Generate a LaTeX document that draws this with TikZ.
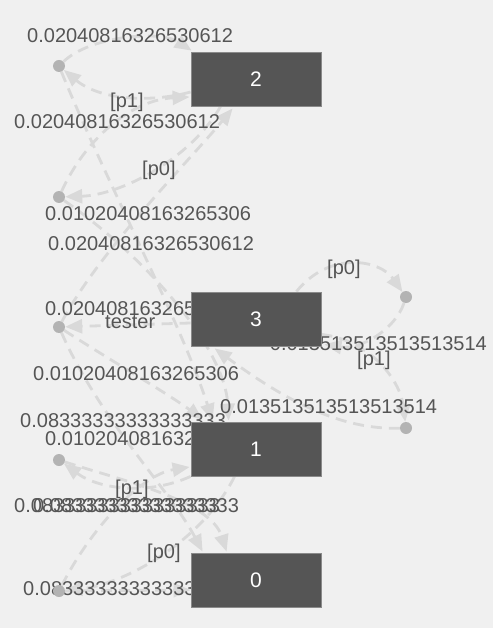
\documentclass[tikz,border=0pt]{standalone}
\usepackage{fontspec}
\setmainfont{Liberation Sans}
\usetikzlibrary{arrows.meta}
\definecolor{bgc}{HTML}{F0F0F0}
\definecolor{edgec}{HTML}{D9D9D9}
\definecolor{boxc}{HTML}{555555}
\definecolor{boxline}{HTML}{8A8A8A}
\definecolor{dotc}{HTML}{B3B3B3}
\definecolor{txtc}{HTML}{555555}
\pgfdeclarelayer{bglayer}
\pgfdeclarelayer{edgelayer}
\pgfdeclarelayer{labellayer}
\pgfsetlayers{bglayer,edgelayer,labellayer,main}
\begin{document}
\begin{tikzpicture}[x=1pt,y=-1pt,
  statebox/.style={rectangle,minimum width=130pt,minimum height=54pt,inner sep=0pt,
    fill=boxc,draw=boxline,line width=0.8pt,text=white,font=\fontsize{21}{24}\selectfont},
  actdot/.style={circle,fill=dotc,minimum size=12pt,inner sep=0pt},
  edgeline/.style={draw=edgec,line width=2.8pt,dash pattern=on 11pt off 7pt,
    -{Triangle[length=17pt,width=14pt]}},
  lbl/.style={text=txtc,font=\fontsize{20}{24}\selectfont,inner sep=0pt,anchor=base west}]
\begin{pgfonlayer}{bglayer}
  \fill[bgc] (0,0) rectangle (493,628);
\end{pgfonlayer}
\useasboundingbox (0,0) rectangle (493,628);
% states
\node[statebox] (s2) at (256,79) {2};
\node[statebox] (s3) at (256,319) {3};
\node[statebox] (s1) at (256,449) {1};
\node[statebox] (s0) at (256,580) {0};
% action dots
\node[actdot] (A) at (59,66) {};
\node[actdot] (B) at (59,197) {};
\node[actdot] (C) at (59,327) {};
\node[actdot] (D) at (406,297) {};
\node[actdot] (E) at (406,428) {};
\node[actdot] (F) at (59,460) {};
\node[actdot] (G) at (59,591) {};
\begin{pgfonlayer}{edgelayer}
  \draw[edgeline] (A) .. controls (90,36) and (160,30) .. ([shift={(1,-1)}]s2.north west);
  \draw[edgeline] ([shift={(0,13)}]s2.west) .. controls (150,103) and (100,100) .. (A);
  \draw[edgeline] (B) .. controls (85,140) and (130,100) .. ([shift={(-1,18)}]s2.west);
  \draw[edgeline] ([shift={(30,0)}]s2.south west) .. controls (190,160) and (120,195) .. (B);
  \draw[edgeline] (C) .. controls (100,250) and (190,160) .. ([shift={(42,2)}]s2.south west);
  \draw[edgeline] (A) .. controls (110,190) and (180,320) .. ([shift={(22,-1)}]s1.north west);
  \draw[edgeline] (B) .. controls (150,260) and (225,350) .. ([shift={(38,-1)}]s1.north west);
  \draw[edgeline] ([shift={(0,4)}]s3.west) -- (C);
  \draw[edgeline] (C) .. controls (110,360) and (170,395) .. ([shift={(12,-2)}]s1.north west);
  \draw[edgeline] (C) .. controls (100,420) and (170,490) .. ([shift={(12,-1)}]s0.north west);
  \draw[edgeline] ([shift={(-25,0)}]s3.north east) .. controls (330,250) and (380,260) .. (D);
  \draw[edgeline] (D) .. controls (395,330) and (360,350) .. ([shift={(3,-2)}]s3.south east);
  \draw[edgeline] ([shift={(0,-12)}]s3.south east) .. controls (370,340) and (400,380) .. (E);
  \draw[edgeline] (E) .. controls (340,430) and (285,400) .. ([shift={(24,2)}]s3.south west);
  \draw[edgeline] (s1.south west) .. controls (150,495) and (100,490) .. (F);
  \draw[edgeline] (G) .. controls (90,530) and (140,475) .. ([shift={(-1,18)}]s1.west);
  \draw[edgeline] ([shift={(44,0)}]s1.south west) .. controls (200,545) and (120,585) .. (G);
  \draw[edgeline] (G) -- ([shift={(0,10)}]s0.west);
  \draw[edgeline] (F) .. controls (120,480) and (210,500) .. ([shift={(36,-1)}]s0.north west);
\end{pgfonlayer}
\begin{pgfonlayer}{labellayer}
  \node[lbl] (l1) at (27,43) {0.02040816326530612};
  \node[lbl] (l2) at (110,108) {[p1]};
  \node[lbl] (l3) at (14,129) {0.02040816326530612};
  \node[lbl] (l4) at (142,176) {[p0]};
  \node[lbl] (l5) at (45,221) {0.01020408163265306};
  \node[lbl] (l6) at (48,250) {0.02040816326530612};
  \node[lbl] (l7) at (45,315) {0.02040816326530612};
  \node[lbl] (l8) at (105,328) {tester};
  \node[lbl] (l9) at (327,274) {[p0]};
  \node[lbl,anchor=base east] (l10) at (487,350) {0.013513513513513514};
  \node[lbl] (l11) at (357,365) {[p1]};
  \node[lbl] (l12) at (220,413) {0.013513513513513514};
  \node[lbl] (l13) at (33,380) {0.01020408163265306};
  \node[lbl] (l14) at (20,427) {0.08333333333333333};
  \node[lbl] (l15) at (45,445) {0.01020408163265306};
  \node[lbl] (l16) at (115,494) {[p1]};
  \node[lbl] (l17) at (14,512) {0.08333333333333333};
  \node[lbl] (l18) at (33,512) {0.08333333333333333};
  \node[lbl] (l19) at (147,558) {[p0]};
  \node[lbl] (l20) at (23,595) {0.08333333333333333};
\end{pgfonlayer}
\end{tikzpicture}
\end{document}
